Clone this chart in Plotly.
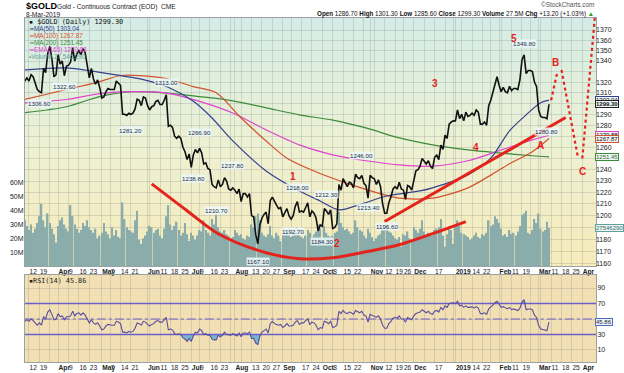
import math
import pandas as pd
import plotly.graph_objects as go

# ---------------- DATA ----------------
holidays = ["2018-03-30", "2018-05-28", "2018-07-04", "2018-09-03", "2018-11-22",
            "2018-12-25", "2019-01-01", "2019-01-21", "2019-02-18"]

# daily closes, 8-Mar-2018 .. 8-Mar-2019 (one line per month)
close = [
    1321, 1324, 1321, 1327, 1325, 1318, 1313, 1311, 1310, 1333, 1329, 1347, 1354, 1342, 1325, 1327,
    1346, 1337, 1340, 1326, 1335, 1336, 1339, 1353, 1340, 1347, 1350, 1346, 1352, 1348, 1336, 1324, 1333, 1323, 1318, 1322, 1315,
    1305, 1306, 1311, 1314, 1313, 1313, 1313, 1321, 1319, 1317, 1290, 1290, 1289, 1291, 1290, 1291, 1295, 1304, 1303, 1298, 1306, 1305,
    1298, 1294, 1297, 1298, 1302, 1303, 1299, 1299, 1303, 1308, 1279, 1280, 1278, 1270, 1268, 1270, 1268, 1260, 1256, 1249, 1254,
    1242, 1253, 1258, 1255, 1259, 1255, 1245, 1246, 1241, 1240, 1227, 1225, 1224, 1231, 1225, 1227, 1233, 1230, 1223, 1222, 1224,
    1222, 1219, 1223, 1212, 1219, 1219, 1216, 1219, 1200, 1199, 1184, 1176, 1192, 1198, 1201, 1203, 1193, 1213, 1216, 1212, 1209, 1206, 1207,
    1199, 1202, 1206, 1200, 1197, 1200, 1208, 1212, 1203, 1204, 1203, 1207, 1211, 1199, 1204, 1202, 1198, 1187, 1192,
    1191, 1206, 1204, 1201, 1205, 1189, 1190, 1193, 1227, 1222, 1232, 1228, 1225, 1229, 1228, 1224, 1236, 1233, 1232, 1235, 1228, 1226, 1215,
    1235, 1233, 1232, 1227, 1231, 1225, 1210, 1202, 1202, 1211, 1216, 1223, 1225, 1223, 1229, 1223, 1222, 1214, 1226, 1225, 1222,
    1232, 1239, 1240, 1243, 1250, 1247, 1245, 1248, 1243, 1241, 1251, 1253, 1249, 1262, 1258, 1271, 1268, 1281, 1283, 1284,
    1284, 1294, 1286, 1290, 1284, 1292, 1288, 1289, 1291, 1289, 1294, 1292, 1281, 1281, 1283, 1280, 1298, 1303, 1310, 1319, 1325,
    1317, 1311, 1315, 1311, 1310, 1316, 1312, 1314, 1314, 1313, 1322, 1341, 1346, 1328, 1331, 1331, 1330, 1320, 1316,
    1294, 1288, 1287, 1287, 1286, 1299.3,
]

# daily volume, millions
volume_m = [
    33, 29, 26, 30, 24, 27, 31, 36, 45, 33, 28, 38, 31, 27, 23, 17,
    29, 33, 35, 30, 27, 25, 44, 36, 30, 27, 24, 26, 31, 29, 33, 28, 26, 24, 27, 20, 22,
    24, 31, 25, 23, 20, 28, 22, 26, 21, 20, 46, 34, 28, 26, 25, 24, 33, 40, 19, 16, 20, 22,
    25, 29, 28, 24, 26, 27, 22, 20, 27, 36, 44, 30, 26, 29, 32, 26, 22, 24, 31, 23, 18,
    24, 22, 19, 22, 26, 25, 33, 26, 24, 22, 34, 30, 37, 28, 25, 24, 26, 23, 22, 20, 21,
    26, 24, 22, 23, 20, 19, 22, 21, 30, 28, 36, 38, 33, 24, 22, 21, 23, 29, 22, 20, 24, 22, 18,
    23, 25, 24, 27, 21, 22, 26, 28, 25, 21, 20, 22, 26, 24, 21, 23, 25, 30, 27,
    20, 29, 24, 22, 21, 22, 24, 25, 39, 31, 28, 26, 27, 25, 23, 24, 33, 28, 26, 25, 22, 20, 27,
    24, 21, 18, 20, 22, 23, 28, 27, 30, 25, 24, 22, 20, 19, 21, 14, 23, 22, 25, 20, 19,
    28, 26, 24, 27, 33, 25, 22, 24, 23, 22, 26, 27, 28, 34, 22, 14, 23, 29, 26, 16,
    30, 33, 29, 24, 23, 22, 21, 19, 20, 22, 24, 21, 20, 23, 22, 24, 33, 29, 30, 36, 34,
    31, 27, 22, 23, 21, 26, 23, 24, 22, 25, 29, 37, 38, 40, 24, 23, 26, 34, 31,
    38, 27, 25, 26, 32, 27.546,
]

# RSI(14)
rsi14 = [
    47, 49, 47, 50, 48, 45, 42, 45, 42, 53, 50, 59, 62, 56, 49, 50,
    57, 53, 54, 49, 53, 53, 54, 60, 54, 57, 58, 55, 58, 55, 50, 45, 49, 45, 43, 45, 41,
    36, 37, 41, 43, 42, 42, 42, 47, 46, 44, 33, 33, 32, 34, 33, 34, 38, 45, 44, 42, 47, 46,
    43, 41, 43, 44, 47, 48, 46, 46, 49, 52, 36, 37, 36, 31, 30, 31, 30, 26, 24, 21, 25,
    21, 28, 33, 32, 37, 35, 30, 31, 29, 29, 24, 23, 23, 29, 27, 29, 33, 30, 29, 29, 31,
    30, 28, 32, 27, 32, 32, 31, 33, 25, 25, 19, 17, 28, 33, 35, 37, 32, 44, 47, 44, 43, 42, 43,
    39, 41, 44, 41, 41, 42, 46, 48, 43, 45, 45, 48, 50, 43, 46, 45, 42, 36, 39,
    38, 47, 46, 44, 47, 39, 40, 42, 60, 57, 61, 58, 57, 59, 58, 56, 61, 59, 58, 60, 55, 54, 46,
    56, 55, 54, 52, 54, 50, 42, 38, 38, 44, 47, 51, 52, 51, 54, 50, 50, 46, 52, 51, 49,
    54, 57, 58, 59, 62, 60, 58, 60, 57, 56, 60, 61, 59, 65, 62, 67, 65, 70, 71, 71,
    70, 73, 67, 68, 65, 67, 65, 65, 66, 64, 66, 64, 57, 57, 58, 56, 63, 65, 68, 71, 73,
    69, 65, 66, 64, 63, 65, 62, 63, 62, 61, 64, 72, 75, 62, 63, 63, 62, 55, 52,
    42, 37, 36, 35, 35, 45.86,
]

ma50_dates = ["2018-03-08", "2018-04-06", "2018-05-04", "2018-05-30", "2018-06-14", "2018-07-03",
              "2018-07-17", "2018-07-31", "2018-08-22", "2018-09-14", "2018-09-28", "2018-10-11",
              "2018-10-25", "2018-11-13", "2018-12-06", "2018-12-14", "2019-01-10", "2019-01-28",
              "2019-02-08", "2019-02-21", "2019-03-04", "2019-03-08"]
ma50_vals = [1331.5, 1333.4, 1328, 1322.4, 1315.8, 1302, 1286.6, 1265.7, 1238.9, 1221.3, 1212.6, 1204.9,
             1209.5, 1216.9, 1221.3, 1224, 1235.4, 1250.2, 1274.8, 1289.5, 1300.6, 1303.04]

ma100_dates = ["2018-03-08", "2018-04-06", "2018-04-30", "2018-05-14", "2018-05-25", "2018-06-14",
               "2018-07-03", "2018-07-19", "2018-08-06", "2018-08-22", "2018-09-06", "2018-09-21",
               "2018-10-08", "2018-10-23", "2018-11-07", "2018-11-21", "2018-12-14", "2019-01-10",
               "2019-01-29", "2019-02-08", "2019-02-26", "2019-03-08"]
ma100_vals = [1303.7, 1313, 1320.5, 1326.2, 1326.2, 1323.4, 1315.8, 1310, 1286.6, 1265.7, 1250.2, 1240.4,
              1232.4, 1225.5, 1219.4, 1215, 1215, 1224, 1236.3, 1245.2, 1256, 1267.87]

ma200_dates = ["2018-03-08", "2018-04-06", "2018-04-30", "2018-05-22", "2018-06-14", "2018-07-09",
               "2018-07-31", "2018-08-22", "2018-09-14", "2018-10-08", "2018-10-30", "2018-11-21",
               "2018-12-14", "2019-01-10", "2019-02-01", "2019-02-26", "2019-03-08"]
ma200_vals = [1291.5, 1297, 1306.4, 1311, 1309.7, 1306.4, 1302.5, 1296, 1289.5, 1284.7, 1277.5, 1268.4,
              1262.1, 1257.6, 1254.9, 1252.4, 1251.45]

ema165_dates = ma200_dates
ema165_vals = [1300.6, 1303.7, 1309.2, 1311, 1309.7, 1302, 1291.2, 1275.7, 1262.1, 1253.2, 1247.9, 1244.3,
               1243.1, 1247.9, 1256.9, 1266.6, 1270.88]

# swing high / low labels
swing_dates = ["2018-03-19", "2018-04-05", "2018-05-21", "2018-06-14", "2018-07-09", "2018-07-03",
               "2018-07-31", "2018-07-19", "2018-08-16", "2018-09-13", "2018-09-11", "2018-10-03",
               "2018-10-01", "2018-10-26", "2018-10-31", "2018-11-13", "2019-02-20", "2019-03-07"]
swing_values = [1306.60, 1322.60, 1281.20, 1313.00, 1266.90, 1238.80, 1237.80, 1210.70, 1167.10,
                1218.00, 1192.70, 1212.30, 1184.30, 1246.00, 1213.40, 1196.60, 1349.80, 1280.80]
swing_kind = ["L", "L", "L", "H", "H", "L", "H", "L", "L", "H", "L", "H", "L", "H", "L", "L", "H", "L"]

# hand-drawn wave annotations
wave_names = ["1", "2", "3", "4", "5", "A", "B", "C"]
wave_dates = ["2018-09-11", "2018-10-10", "2018-12-17", "2019-01-16", "2019-02-12",
              "2019-03-04", "2019-03-13", "2019-04-01"]
wave_prices = [1233.6, 1176, 1318.6, 1259.6, 1362, 1261.5, 1339, 1238]

arc_dates = ["2018-06-05", "2018-06-28", "2018-07-20", "2018-08-22", "2018-09-14", "2018-10-08",
             "2018-10-30", "2018-11-21", "2018-12-14", "2019-01-09"]
arc_prices = [1227.5, 1204.2, 1184.6, 1168.6, 1163.6, 1164.4, 1169.4, 1175.3, 1184.6, 1194.9]

trend_dates = ["2018-11-12", "2019-03-20"]
trend_prices = [1195, 1287]

proj_legs = [
    (["2019-03-11", "2019-03-14"], [1303, 1329.5]),
    (["2019-03-18", "2019-03-28"], [1331.5, 1250]),
    (["2019-04-01", "2019-04-09"], [1250, 1382]),
]

tick_dates = ["2018-03-12", "2018-03-19", "2018-04-02", "2018-04-09", "2018-04-16", "2018-04-23",
              "2018-05-01", "2018-05-07", "2018-05-14", "2018-05-21", "2018-06-01", "2018-06-11",
              "2018-06-18", "2018-06-25", "2018-07-02", "2018-07-09", "2018-07-16", "2018-07-23",
              "2018-08-01", "2018-08-13", "2018-08-20", "2018-08-27", "2018-09-04", "2018-09-17",
              "2018-09-24", "2018-10-01", "2018-10-08", "2018-10-15", "2018-10-22", "2018-11-01",
              "2018-11-12", "2018-11-19", "2018-11-26", "2018-12-03", "2018-12-17", "2019-01-02",
              "2019-01-14", "2019-01-22", "2019-02-01", "2019-02-11", "2019-02-19", "2019-03-01",
              "2019-03-11", "2019-03-18", "2019-03-25", "2019-04-01"]
tick_text = ["12", "19", "<b>Apr</b>", "9", "16", "23", "<b>May</b>", "7", "14", "21", "<b>Jun</b>", "11",
             "18", "25", "<b>Jul</b>", "9", "16", "23", "<b>Aug</b>", "13", "20", "27", "<b>Sep</b>", "17",
             "24", "<b>Oct</b>", "8", "15", "22", "<b>Nov</b>", "12", "19", "26", "<b>Dec</b>", "17",
             "<b>2019</b>", "14", "22", "<b>Feb</b>", "11", "19", "<b>Mar</b>", "11", "18", "25", "<b>Apr</b>"]
minor_dates = ["2018-03-26", "2018-06-04", "2018-07-30", "2018-08-06", "2018-09-10", "2018-10-29",
               "2018-11-05", "2018-12-10", "2018-12-24", "2018-12-31", "2019-01-07", "2019-01-28",
               "2019-02-04", "2019-02-25", "2019-03-04"]

# ---------------- BUILD ----------------
dates = [d for d in pd.bdate_range("2018-03-08", "2019-03-08") if d.strftime("%Y-%m-%d") not in holidays]
n = len(dates)
assert n == len(close) == len(volume_m) == len(rsi14), (n, len(close), len(volume_m), len(rsi14))

W, H = 624, 373
ML, MR, MT, MB = 25, 28, 18, 11
PH = H - MT - MB
PW = W - ML - MR


def ppy(p):
    return (H - MB - p) / PH


def ppx(p):
    return (p - ML) / PW


SANS = "Liberation Sans"
MONO = "DejaVu Sans Mono"
GRID = "rgba(110,125,125,0.22)"
C50, C100, C200, CEMA = "#34418f", "#d2522e", "#3b8a3a", "#e043cf"
RED = "#e3241c"

fig = go.Figure()

fig.add_trace(go.Bar(x=dates, y=[v * 1e6 for v in volume_m], xaxis="x", yaxis="y",
                     marker=dict(color="#8aadab", line=dict(width=0)), hoverinfo="skip"))

for dts, vals, col in [(ma200_dates, ma200_vals, C200), (ema165_dates, ema165_vals, CEMA),
                       (ma100_dates, ma100_vals, C100), (ma50_dates, ma50_vals, C50)]:
    fig.add_trace(go.Scatter(x=dts, y=vals, mode="lines", xaxis="x", yaxis="y2",
                             line=dict(color=col, width=1.2, shape="spline", smoothing=0.8),
                             hoverinfo="skip"))

fig.add_trace(go.Scatter(x=dates, y=close, mode="lines", xaxis="x", yaxis="y2",
                         line=dict(color="#111111", width=1.6), hoverinfo="skip"))

fig.add_trace(go.Scatter(x=arc_dates, y=arc_prices, mode="lines", xaxis="x", yaxis="y2",
                         line=dict(color=RED, width=3, shape="spline"), hoverinfo="skip"))
fig.add_trace(go.Scatter(x=trend_dates, y=trend_prices, mode="lines", xaxis="x", yaxis="y2",
                         line=dict(color=RED, width=3), hoverinfo="skip"))
for lx, ly in proj_legs:
    fig.add_trace(go.Scatter(x=lx, y=ly, mode="lines", xaxis="x", yaxis="y2",
                             line=dict(color=RED, width=2.2, dash="dot"), hoverinfo="skip"))

# RSI panel
up = [max(r, 70) for r in rsi14]
dn = [min(r, 30) for r in rsi14]
FILL = "rgba(85,170,215,0.8)"
fig.add_trace(go.Scatter(x=dates, y=[70] * n, mode="lines", line=dict(width=0), xaxis="x2", yaxis="y3", hoverinfo="skip"))
fig.add_trace(go.Scatter(x=dates, y=up, mode="lines", line=dict(width=0), fill="tonexty", fillcolor=FILL,
                         xaxis="x2", yaxis="y3", hoverinfo="skip"))
fig.add_trace(go.Scatter(x=dates, y=[30] * n, mode="lines", line=dict(width=0), xaxis="x2", yaxis="y3", hoverinfo="skip"))
fig.add_trace(go.Scatter(x=dates, y=dn, mode="lines", line=dict(width=0), fill="tonexty", fillcolor=FILL,
                         xaxis="x2", yaxis="y3", hoverinfo="skip"))
for lvl, dash in [(70, "solid"), (30, "solid"), (50, "dashdot")]:
    fig.add_trace(go.Scatter(x=[dates[0], "2019-04-09 14:00"], y=[lvl, lvl], mode="lines", xaxis="x2", yaxis="y3",
                             line=dict(color="#6d5fc9", width=1.4 if dash == "solid" else 1, dash=dash),
                             hoverinfo="skip"))
fig.add_trace(go.Scatter(x=dates, y=rsi14, mode="lines", xaxis="x2", yaxis="y3",
                         line=dict(color="#5a4f9c", width=1.1), hoverinfo="skip"))

# ---------------- LAYOUT ----------------
shapes = []
stops = [(0.0, (247, 234, 186)), (0.5, (237, 241, 212)), (1.0, (212, 236, 230))]


def grad(t):
    for (a, ca), (b, cb) in zip(stops[:-1], stops[1:]):
        if a <= t <= b:
            f = (t - a) / (b - a)
            return "rgb(%d,%d,%d)" % tuple(round(ca[i] + (cb[i] - ca[i]) * f) for i in range(3))
    return "rgb(%d,%d,%d)" % stops[-1][1]


NS = 40
for i in range(NS):
    shapes.append(dict(type="rect", xref="x domain", yref="y domain", x0=0, x1=1,
                       y0=i / NS, y1=(i + 1) / NS + 0.002, fillcolor=grad((i + 0.5) / NS),
                       line=dict(width=0), layer="below"))

xrange = ["2018-03-08 02:00", "2019-04-09 14:00"]
rb = [dict(bounds=["sat", "mon"]), dict(values=holidays)]
tf = dict(size=7, color="#222", family=SANS)
xtf = dict(size=6.6, color="#222", family=SANS)
xcommon = dict(type="date", range=xrange, rangebreaks=rb, tickvals=tick_dates, ticktext=tick_text,
               tickfont=xtf, ticks="", tickangle=0, automargin=False, showgrid=True, gridcolor=GRID, gridwidth=1,
               showline=True, linecolor="#9aa3a3", linewidth=1, mirror=True,
               ticklabelposition="outside right", ticklabelstandoff=-1,
               minor=dict(tickvals=minor_dates, showgrid=True, gridcolor=GRID, ticks=""))

price_ticks = list(range(1160, 1380, 10))
hidden = {1190, 1250, 1270, 1300, 1330}
price_text = ["" if t in hidden else str(t) for t in price_ticks]

fig.update_layout(
    width=W, height=H, margin=dict(l=ML, r=MR, t=MT, b=MB, autoexpand=False),
    paper_bgcolor="white", plot_bgcolor="#f3dfb4",
    showlegend=False, bargap=0.3, shapes=shapes, hovermode=False,
    xaxis=dict(**xcommon, anchor="y", domain=[0, 1]),
    xaxis2=dict(**xcommon, anchor="y3", domain=[0, 1], matches="x"),
    yaxis=dict(domain=[ppy(266), 1.0], anchor="x", range=[0, 179.3e6], side="left",
               tickvals=[10e6, 20e6, 30e6, 40e6, 50e6, 60e6],
               ticktext=["10M", "20M", "30M", "40M", "50M", "60M"], tickfont=tf, ticks="",
               automargin=False, ticklabelstandoff=-1,
               showgrid=False, zeroline=False, showline=True, linecolor="#9aa3a3", mirror=True),
    yaxis2=dict(overlaying="y", anchor="x", side="right", type="log",
                range=[math.log10(1157.6), math.log10(1381.8)], automargin=False,
                tickvals=price_ticks, ticktext=price_text, tickfont=tf, ticks="", ticklabelstandoff=-1,
                showgrid=True, gridcolor=GRID, zeroline=False),
    yaxis3=dict(domain=[0, ppy(275)], anchor="x2", side="right", range=[-5.5, 106.8], automargin=False,
                tickvals=[10, 30, 50, 70, 90], ticktext=["10", "30", "", "70", "90"], tickfont=tf,
                ticks="", ticklabelstandoff=-1, showgrid=True, gridcolor=GRID, zeroline=False,
                showline=True, linecolor="#9aa3a3", mirror=True),
)

ann = []


def txt(xp, yp, text, size=7, color="#111", family=SANS, xanchor="left"):
    ann.append(dict(xref="paper", yref="paper", x=ppx(xp), y=ppy(yp), text=text, showarrow=False,
                    xanchor=xanchor, yanchor="middle", font=dict(size=size, color=color, family=family)))


# header
txt(24, 6, "<b>$GOLD</b>", size=9, color="#000", family=SANS)
txt(55, 7, "Gold - Continuous Contract (EOD)  CME", size=6.6, color="#222")
txt(24, 14.5, "8-Mar-2019", size=6.6, color="#222")
txt(596, 5, "©StockCharts.com", size=6.4, color="#555", xanchor="right")
txt(596, 14, "<b>Open</b> 1286.70 <b>High</b> 1301.30 <b>Low</b> 1285.60 <b>Close</b> 1299.30 "
             "<b>Volume</b> 27.5M <b>Chg</b> +13.20 (+1.03%) <span style='color:#2a9a2a'>▲</span>",
    size=6.3, color="#111", xanchor="right")

# legend
txt(27, 22, "▪ $GOLD (Daily) 1299.30", size=6.8, color="#111", family=MONO)
txt(27, 29, "━MA(50) 1303.04", size=6.3, color=C50)
txt(27, 36, "━MA(100) 1267.87", size=6.3, color=C100)
txt(27, 43, "━MA(200) 1251.45", size=6.3, color=C200)
txt(27, 50, "━EMA(165) 1270.88", size=6.3, color=CEMA)
txt(27, 57, "▪Volume 27,546,290", size=6.3, color="#5f9f9c")
txt(27, 281, "▪RSI(14) 45.86", size=6.8, color="#222", family=MONO)

# swing labels
for d, v, k in zip(swing_dates, swing_values, swing_kind):
    ann.append(dict(xref="x", yref="y2", x=d, y=math.log10(v), text="%.2f" % v, showarrow=False,
                    yshift=7 if k == "H" else -7, font=dict(size=6.2, color="#1d2d44", family=SANS),
                    bgcolor="rgba(236,248,250,0.85)", borderpad=0))

# wave labels
for name, d, p in zip(wave_names, wave_dates, wave_prices):
    ann.append(dict(xref="x", yref="y2", x=d, y=math.log10(p), text="<b>%s</b>" % name, showarrow=False,
                    font=dict(size=10, color=RED, family=SANS)))


# right-axis value boxes
def box(yref, yval, text, border, color="#111", bold=False):
    ann.append(dict(xref="paper", yref=yref, x=1.0, y=yval, xanchor="left", xshift=-1,
                    text=("<b>%s</b>" % text) if bold else text, showarrow=False,
                    font=dict(size=6, color=color, family=SANS), bgcolor="#eef4f4",
                    bordercolor=border, borderwidth=1, borderpad=0))


box("y2", math.log10(1303.04), "1303.04", C50)
box("y2", math.log10(1299.30), "1299.30", "#222", bold=True)
box("y2", math.log10(1270.88), "1270.88", CEMA)
box("y2", math.log10(1267.87), "1267.87", C100)
box("y2", math.log10(1251.45), "1251.45", C200, color="#2c6e2c")
box("y", 27.546e6, "27546290", "#5f9f9c", color="#2f6f6c")
box("y3", 45.86, "45.86", "#4a6fc0", color="#223")

fig.update_layout(annotations=ann)
fig.write_html("out.html", config={"displayModeBar": False},
               post_script="document.body.style.margin='0px';")
